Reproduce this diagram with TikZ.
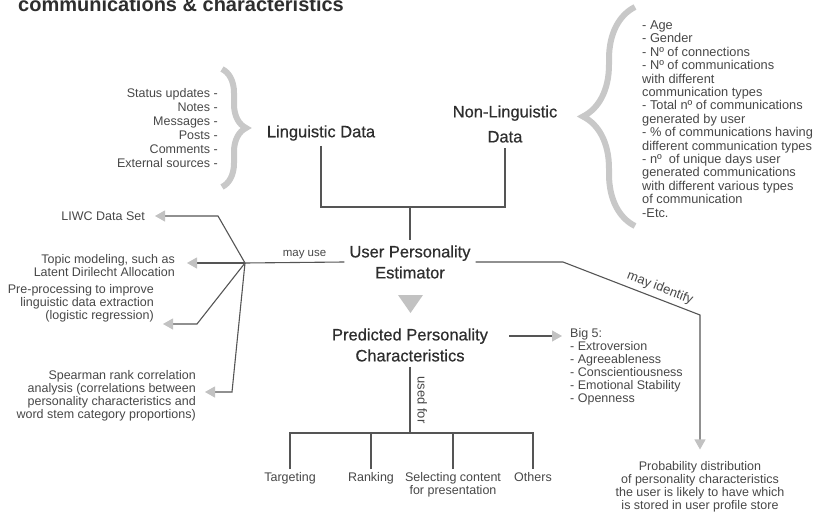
\documentclass[tikz,border=0pt]{standalone}
\usepackage{fontspec}
\setmainfont{Liberation Sans}
\newfontfamily\medfont[FakeBold=0.6]{Liberation Sans}
\usetikzlibrary{arrows.meta,decorations.pathreplacing}
\definecolor{txtgray}{HTML}{2E2E2E}
\definecolor{smallgray}{HTML}{474747}
\definecolor{linegray}{HTML}{555555}
\definecolor{tipgray}{HTML}{C2C2C2}
\definecolor{bracegray}{HTML}{C8C8C8}

\begin{document}
\begin{tikzpicture}[x=1pt,y=-1pt,
  big/.style={font=\medfont\fontsize{16.5}{21}\selectfont,text=txtgray,align=center,inner sep=5pt},
  small/.style={font=\fontsize{12.5}{13}\selectfont,text=smallgray,inner sep=3pt},
  note/.style={font=\fontsize{12}{13}\selectfont,text=smallgray,inner sep=3pt},
  conn/.style={draw=linegray,line width=1.1pt},
  tip/.style={conn,-{Triangle[length=10pt,width=11pt,color=tipgray]}},
  curly/.style={draw=bracegray,line width=6pt,decorate,decoration={brace,amplitude=#1}}]
  \useasboundingbox (0,0) rectangle (815,514);

  \node[anchor=base west,inner sep=0pt,text=txtgray,font=\fontsize{20}{24}\selectfont\bfseries] (title) at (18,12) {communications \& characteristics};

  \node[small,align=right,anchor=east,font=\fontsize{12.5}{14}\selectfont] (lingsrc) at (221,128) {Status updates -\\Notes -\\Messages -\\Posts -\\Comments -\\External sources -};
  \draw[curly=24pt] (222,69) -- (222,187);
  \node[big] (ling) at (321,133) {Linguistic Data};
  \node[big,font=\medfont\fontsize{16.5}{25}\selectfont] (nonling) at (505,124) {Non-Linguistic\\Data};
  \draw[curly=52pt] (635,226) -- (635,7);
  \node[small,align=left,anchor=west,font=\fontsize{12.8}{13.4}\selectfont] (nlsrc) at (639,119) {- Age\\- Gender\\- Nº of connections\\- Nº of communications\\with different\\communication types\\- Total nº of communications\\generated by user\\- \% of communications having\\different communication types\\- nº~ of unique days user\\generated communications\\with different various types\\of communication\\-Etc.};

  \coordinate (jn) at (410,207);
  \node[big] (est) at (410,262) {User Personality\\Estimator};
  \draw[conn] (ling) -- (ling |- jn) -- (nonling |- jn) -- (nonling);
  \draw[conn] (jn) -- (est);

  \coordinate (hub) at (245,263);
  \draw[conn] (est.west) -- node[note,font=\fontsize{11.5}{13}\selectfont,above,pos=.4] {may use} (hub);
  \node[small,anchor=east,inner xsep=10pt] (liwc) at (155,216) {LIWC Data Set};
  \coordinate (b1) at (218,216);
  \draw[tip] (hub) -- (b1) -- (liwc);
  \node[small,align=right,anchor=east,inner xsep=12pt] (topic) at (187,266) {Topic modeling, such as\\Latent Dirilecht Allocation};
  \draw[tip] (hub) -- (hub -| topic.east);
  \node[small,align=right,anchor=east,inner xsep=9pt] (pre) at (163,303) {Pre-processing to improve\\linguistic data extraction\\(logistic regression)};
  \coordinate (b3) at (197,324);
  \draw[tip] (hub) -- (b3) -- (b3 -| pre.east);
  \node[small,align=right,anchor=east,inner xsep=9pt] (spear) at (205,396) {Spearman rank correlation\\analysis (correlations between\\personality characteristics and\\word stem category proportions)};
  \coordinate (b4) at (232,392);
  \draw[tip] (hub) -- (b4) -- (b4 -| spear.east);

  \fill[tipgray] (398,295) -- (423,295) -- (410.5,313) -- cycle;
  \node[big] (pred) at (410,345) {Predicted Personality\\Characteristics};
  \node[small,align=left,anchor=west,inner xsep=8pt] (big5) at (562,367) {Big 5:\\- Extroversion\\- Agreeableness\\- Conscientiousness\\- Emotional Stability\\- Openness};
  \coordinate (b5) at (509,336);
  \draw[tip] (b5) -- (b5 -| big5.west);

  \coordinate (m1) at (563,262);
  \coordinate (m2) at (700,315);
  \node[small,align=center,inner ysep=12pt] (prob) at (700,487) {Probability distribution\\of personality characteristics\\the user is likely to have which\\is stored in user profile store};
  \draw[tip] (est.east) -- (m1) -- node[note,font=\fontsize{13}{14}\selectfont,above,sloped,pos=.68,inner sep=4pt] {may identify} (m2) -- (prob.north);

  \coordinate (jb) at (410,433);
  \draw[conn] (pred) -- node[note,font=\fontsize{13}{14}\selectfont,anchor=south,rotate=-90,inner sep=7pt] {used for} (jb);
  \node[small,anchor=north] (targ) at (290,469) {Targeting};
  \node[small,anchor=north] (rank) at (371,469) {Ranking};
  \node[small,anchor=north,align=center] (sel) at (453,469) {Selecting content\\for presentation};
  \node[small,anchor=north] (oth) at (533,469) {Others};
  \draw[conn] (targ) -- (targ |- jb) -- (oth |- jb) -- (oth);
  \draw[conn] (rank) -- (rank |- jb);
  \draw[conn] (sel) -- (sel |- jb);
\end{tikzpicture}
\end{document}
